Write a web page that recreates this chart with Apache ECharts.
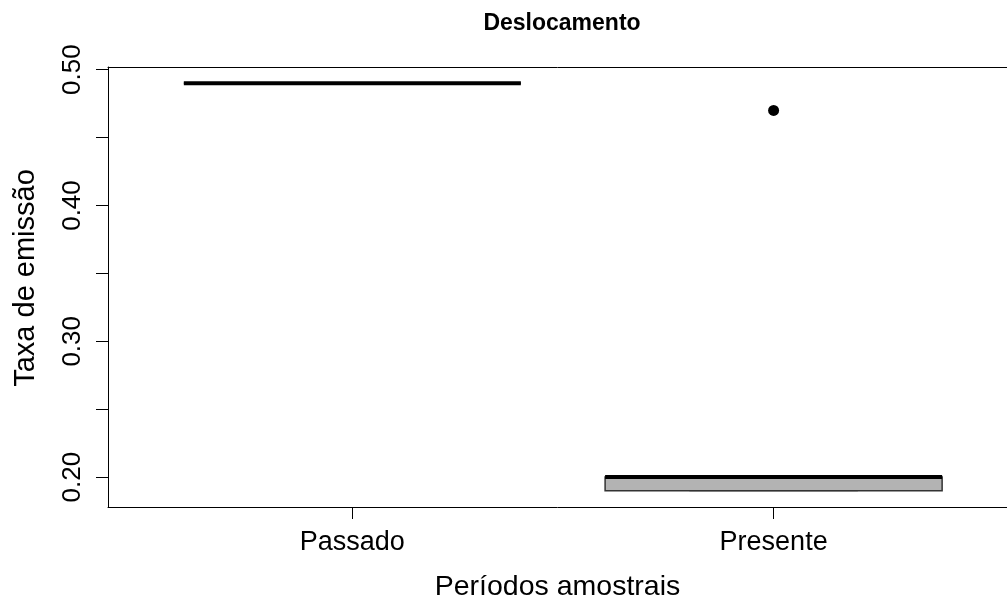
<!DOCTYPE html>
<html>
<head>
<meta charset="utf-8">
<script src="https://cdn.jsdelivr.net/npm/echarts@6/dist/echarts.min.js"></script>
<style>
html,body{margin:0;padding:0;background:#fff;}
#main{width:1007px;height:605px;}
</style>
</head>
<body>
<div id="main"></div>
<script>
// dados
var categorias = ["Passado", "Presente"];
// [min, q1, mediana, q3, max]
var passado = [0.49, 0.49, 0.49, 0.49, 0.49];
var presente = [0.19, 0.19, 0.20, 0.20, 0.20];
var outliers = [[2, 0.47]];
var yTicks = [0.20, 0.25, 0.30, 0.35, 0.40, 0.45, 0.50];
var yLabels = [0.20, 0.30, 0.40, 0.50];

var fonte = "Liberation Sans, Arial, sans-serif";

var boxData = [
    [1].concat(passado),
    [2].concat(presente)
];

function renderBox(params, api){
    var x = api.value(0);
    var lo = api.coord([x, api.value(1)]);
    var q1 = api.coord([x, api.value(2)]);
    var med = api.coord([x, api.value(3)]);
    var q3 = api.coord([x, api.value(4)]);
    var hi = api.coord([x, api.value(5)]);
    var w = api.size([0.8, 0])[0];
    var cx = med[0];
    var children = [];
    // bigodes tracejados
    children.push({type:'line', shape:{x1:cx,y1:q3[1],x2:cx,y2:hi[1]}, style:{stroke:'#000',lineWidth:1,lineDash:[4,4]}});
    children.push({type:'line', shape:{x1:cx,y1:q1[1],x2:cx,y2:lo[1]}, style:{stroke:'#000',lineWidth:1,lineDash:[4,4]}});
    children.push({type:'line', shape:{x1:cx-w/4,y1:hi[1],x2:cx+w/4,y2:hi[1]}, style:{stroke:'#000',lineWidth:1}});
    children.push({type:'line', shape:{x1:cx-w/4,y1:lo[1],x2:cx+w/4,y2:lo[1]}, style:{stroke:'#000',lineWidth:1}});
    // caixa
    children.push({type:'rect', shape:{x:cx-w/2,y:q3[1],width:w,height:q1[1]-q3[1]}, style:{fill:'#b3b3b3',stroke:'#333',lineWidth:1.5}});
    // mediana
    children.push({type:'line', shape:{x1:cx-w/2,y1:med[1],x2:cx+w/2,y2:med[1]}, style:{stroke:'#000',lineWidth:4}});
    return {type:'group', children:children};
}

var myChart = echarts.init(document.getElementById('main'));

var option = {
    animation: false,
    backgroundColor: '#fff',
    title: {
        text: 'Deslocamento',
        left: 557,
        textAlign: 'center',
        top: 7,
        textStyle: {fontFamily: fonte, fontWeight: 'bold', fontSize: 23, color: '#000'}
    },
    grid: {
        left: 108,
        top: 67,
        right: 0,
        height: 440,
        show: false,
        containLabel: false,
        outerBoundsMode: 'none'
    },
    xAxis: [{
        type: 'value',
        min: 0.42,
        max: 2.554,
        name: 'Períodos amostrais',
        nameLocation: 'middle',
        nameGap: 66,
        nameTextStyle: {fontFamily: fonte, fontSize: 28.5, color: '#000'},
        axisLine: {show: true, lineStyle: {color: '#000', width: 1}},
        axisTick: {show: true, length: 12, customValues: [1, 2], lineStyle: {color: '#000'}},
        axisLabel: {
            margin: 22,
            customValues: [1, 2],
            fontFamily: fonte, fontSize: 27, color: '#000',
            formatter: function(v){ return categorias[Math.round(v) - 1]; }
        },
        splitLine: {show: false}
    }, {
        // linha de cima da moldura
        type: 'value',
        position: 'top',
        min: 0.42,
        max: 2.554,
        axisLine: {show: true, lineStyle: {color: '#000', width: 1}},
        axisTick: {show: false},
        axisLabel: {show: false},
        splitLine: {show: false}
    }],
    yAxis: {
        type: 'value',
        min: 0.178,
        max: 0.502,
        name: 'Taxa de emissão',
        nameLocation: 'middle',
        nameGap: 68,
        nameRotate: 90,
        nameTextStyle: {fontFamily: fonte, fontSize: 29, color: '#000', padding: [0, 0, 0, 18]},
        axisLine: {show: true, lineStyle: {color: '#000', width: 1}},
        axisTick: {show: true, length: 12, customValues: yTicks, lineStyle: {color: '#000'}},
        axisLabel: {
            rotate: 90,
            margin: 22,
            customValues: yLabels,
            fontFamily: fonte, fontSize: 26, color: '#000',
            formatter: function(v){ return v.toFixed(2); }
        },
        splitLine: {show: false}
    },
    series: [
        {
            type: 'custom',
            renderItem: renderBox,
            data: boxData,
            encode: {x: 0, y: [1, 2, 3, 4, 5]},
            z: 2
        },
        {
            type: 'scatter',
            data: outliers,
            symbol: 'circle',
            symbolSize: 11,
            itemStyle: {color: '#000', opacity: 1},
            z: 3
        }
    ]
};
myChart.setOption(option);
</script>
</body>
</html>
